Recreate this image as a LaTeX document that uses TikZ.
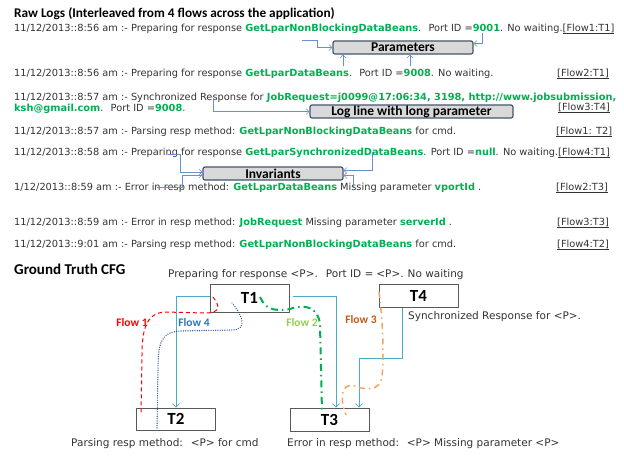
\documentclass[tikz,border=0pt]{standalone}
\usepackage{fontspec}
\setmainfont{DejaVu Sans}
\newfontfamily\headfont{Carlito}
\usetikzlibrary{arrows.meta, positioning}
\definecolor{beanGreen}{HTML}{00B050}
\definecolor{logGray}{HTML}{333333}
\definecolor{hookBlue}{HTML}{6A8FD0}
\definecolor{boxFill}{HTML}{D9D9D9}
\definecolor{boxEdge}{HTML}{44546A}
\definecolor{cfgBlue}{HTML}{4BACC6}
\definecolor{flowRed}{HTML}{FF0000}
\definecolor{flowNavy}{HTML}{2F5597}
\definecolor{flowBlue}{HTML}{2E75B6}
\definecolor{flowLime}{HTML}{92D050}
\definecolor{flowOrange}{HTML}{F4A460}
\definecolor{flowBrown}{HTML}{C55A11}

\newcommand{\bean}[1]{\textbf{\textcolor{beanGreen}{#1}}}
\newcommand{\flowtag}[1]{\underline{#1}}

\tikzset{
  logline/.style={anchor=base west, inner sep=0pt, text=logGray,
    font=\fontsize{9.8}{11}\selectfont},
  heading/.style={anchor=base west, inner sep=0pt,
    font=\headfont\bfseries\fontsize{13.3}{13.3}\selectfont},
  markbox/.style={draw=boxEdge, line width=1.2pt, fill=boxFill,
    rounded corners=2pt, inner sep=0pt, minimum height=13pt,
    font=\headfont\bfseries\fontsize{13.5}{13.5}\selectfont},
  hook/.style={draw=hookBlue, line width=0.6pt,
    -{Straight Barb[length=3pt,width=6pt]}},
  stmt/.style={draw=gray!70!black, line width=0.7pt, minimum width=79pt,
    inner sep=0pt, font=\headfont\bfseries\fontsize{17}{17}\selectfont},
  cfgarrow/.style={draw=cfgBlue, line width=0.8pt,
    -{Straight Barb[length=3.5pt,width=7pt]}},
  stmtlabel/.style={anchor=base west, inner sep=0pt, text=logGray,
    font=\fontsize{10.5}{12}\selectfont},
  flowname/.style={inner sep=0pt, font=\headfont\bfseries\fontsize{11.5}{11.5}\selectfont},
}

\begin{document}
\begin{tikzpicture}[x=1pt, y=-1pt]
  \useasboundingbox (0,0) rectangle (624,456);

  % raw log lines
  \node[heading] (title) at (14,17) {Raw Logs (Interleaved from 4 flows across the application)};
  \node[logline] (l1) at (14,31) {11/12/2013::8:56 am :- Preparing for response \bean{GetLparNonBlockingDataBeans}.~ Port ID =\bean{9001}. No waiting.\flowtag{[Flow1:T1]}};
  \node[logline] (l2) at (14,76) {11/12/2013::8:56 am :- Preparing for response \bean{GetLparDataBeans}.~ Port ID =\bean{9008}. No waiting.};
  \node[logline] (l3) at (14,100) {11/12/2013::8:57 am :- Synchronized Response for \bean{JobRequest=j0099@17:06:34, 3198, http://www.jobsubmission,}};
  \node[logline] (l3b) at (14,111) {\bean{ksh@gmail.com}.~ Port ID =\bean{9008}.};
  \node[logline] (l4) at (14,134) {11/12/2013::8:57 am :- Parsing resp method: \bean{GetLparNonBlockingDataBeans} for cmd.};
  \node[logline] (l5) at (14,155) {11/12/2013::8:58 am :- Preparing for response \bean{GetLparSynchronizedDataBeans}. Port ID =\bean{null}. No waiting.};
  \node[logline] (l6) at (14,190) {1/12/2013::8:59 am :- Error in resp method: \bean{GetLparDataBeans} Missing parameter \bean{vportId} .};
  \node[logline] (l7) at (14,225) {11/12/2013::8:59 am :- Error in resp method: \bean{JobRequest} Missing parameter \bean{serverId} .};
  \node[logline] (l8) at (14,247) {11/12/2013::9:01 am :- Parsing resp method: \bean{GetLparNonBlockingDataBeans} for cmd.};

  % flow tags
  \node[logline] (f2) at (557,76) {\flowtag{[Flow2:T1]}};
  \node[logline] (f3) at (558,110) {\flowtag{[Flow3:T4]}};
  \node[logline] (f4) at (556,134) {\flowtag{[Flow1: T2]}};
  \node[logline] (f5) at (558,155) {\flowtag{[Flow4:T1]}};
  \node[logline] (f6) at (556,190) {\flowtag{[Flow2:T3]}};
  \node[logline] (f7) at (557,225) {\flowtag{[Flow3:T3]}};
  \node[logline] (f8) at (557,247) {\flowtag{[Flow4:T2]}};

  % callout boxes
  \node[markbox, minimum width=140pt] (params) at (403,47.5) {Parameters};
  \node[markbox, minimum width=203pt] (longp) at (411.5,111.5) {Log line with long parameter};
  \node[markbox, minimum width=140pt] (inv) at (273,173.5) {Invariants};

  \coordinate (p1) at (302,40);
  \coordinate (p2) at (482,33);
  \coordinate (p3) at (343,66);
  \coordinate (p4) at (410,66);
  \coordinate (q1) at (213,98);
  \coordinate (i1) at (168,154);
  \coordinate (i2) at (157,187);
  \coordinate (i3) at (372,152);
  \coordinate (i4) at (353,187);
  \draw[hook] (p1) -- (317,40) |- (params.west);
  \draw[hook] (p2) |- ([yshift=4pt]params.east);
  \draw[hook] (p3) -- (p3 |- params.south);
  \draw[hook] (p4) -- (p4 |- params.south);
  \draw[hook] (q1) |- (longp.west);
  \draw[hook] (i1) -- (180,154) |- ([yshift=1.5pt]inv.west);
  \draw[hook] (i2) -- (182,187) |- ([yshift=-1.5pt]inv.west);
  \draw[hook] (i3) |- ([yshift=3pt]inv.east);
  \draw[hook] (i4) |- ([yshift=-2pt]inv.east);

  % ground truth CFG
  \node[heading, font=\headfont\bfseries\fontsize{15}{15}\selectfont] (cfg) at (14,274) {Ground Truth CFG};
  \node[stmt, minimum height=28pt] (t1) at (249.5,298) {T1};
  \node[stmt, minimum height=23pt] (t4) at (418.5,295.5) {T4};
  \node[stmt, minimum height=22pt] (t2) at (176,419) {T2};
  \node[stmt, minimum height=23pt] (t3) at (329.5,419.5) {T3};

  \node[stmtlabel] (t1txt) at (168,277) {Preparing for response <P>.\hspace{8pt}Port ID =\hspace{3pt}<P>.\hspace{4pt}No waiting};
  \node[stmtlabel] (t4txt) at (408,319) {Synchronized Response for <P>.};
  \node[stmtlabel] (t2txt) at (71,446) {Parsing resp method:~ <P> for cmd};
  \node[stmtlabel] (t3txt) at (287,446) {Error in resp method:~ <P> Missing parameter <P>};

  \draw[cfgarrow] ([yshift=2pt]t1.west) -| (t2.north);
  \draw[cfgarrow] ([xshift=4pt,yshift=2pt]t1.east) -| ([xshift=6.5pt]t3.north);
  \draw[cfgarrow] ([xshift=-16.5pt,yshift=-1pt]t4.south) -- ++(0,50) -| ([xshift=29.5pt]t3.north);

  % flows traced over the CFG
  \draw[flowRed, line width=1pt, dash pattern=on 4pt off 3pt]
    (213,297) .. controls (220,306) and (221,313) .. (205,313)
    -- (165,312) .. controls (146,313) and (142,330) .. (142,355) -- (141,414);
  \draw[flowNavy, line width=1.4pt, line cap=round, dash pattern=on 0pt off 2.3pt]
    (232,303) .. controls (240,312) and (250,330) .. (232,330)
    -- (180,331) .. controls (160,332) and (158,345) .. (158,370) -- (157,428);
  \draw[beanGreen, line width=2pt, dash pattern=on 7pt off 4pt on 1.5pt off 4pt]
    (260,297) .. controls (265,308) and (272,312) .. (290,309)
    .. controls (305,303) and (319,308) .. (320,325) -- (322,412);
  \draw[flowOrange, line width=1.5pt, dash pattern=on 6pt off 4pt on 1.5pt off 4pt]
    (379,292) .. controls (383,320) and (384,360) .. (382,376)
    .. controls (380,392) and (365,390) .. (355,386)
    .. controls (340,382) and (340,400) .. (346,415);

  \node[flowname, text=flowRed] (n1) at (132,322) {Flow 1};
  \node[flowname, text=flowBlue] (n4) at (194,322) {Flow 4};
  \node[flowname, text=flowLime] (n2) at (302,322) {Flow 2};
  \node[flowname, text=flowBrown] (n3) at (361,319) {Flow 3};
\end{tikzpicture}
\end{document}
